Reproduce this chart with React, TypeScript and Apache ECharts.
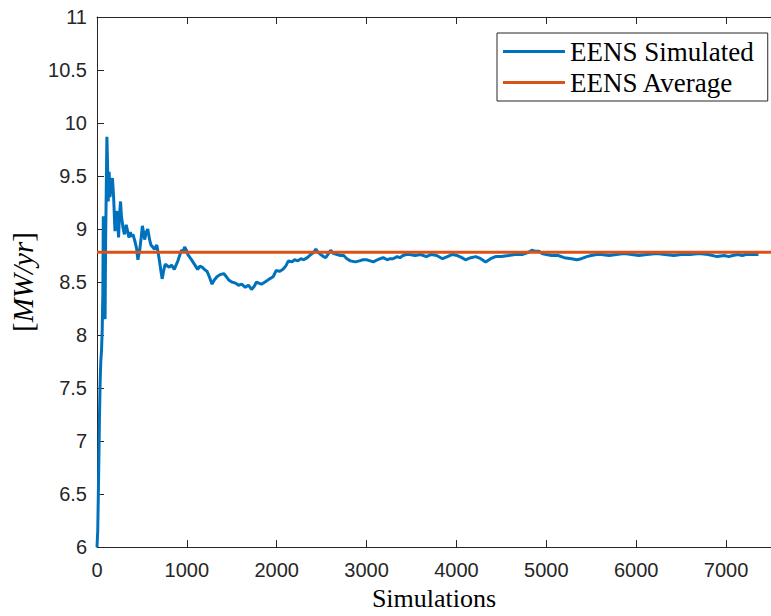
import React, { useEffect, useRef } from "react";
import * as echarts from "echarts";

// Simulation count (x) and running EENS estimate (y)
const simX: number[] = [
  0, 8, 15, 22, 28, 35, 42, 50, 58, 65, 70, 76, 82, 90, 96, 102, 110, 118, 125, 130,
  135, 145, 160, 172, 185, 200, 210, 225, 240, 248, 262, 272, 290, 305, 325, 340, 355,
  370, 385, 400, 420, 440, 455, 475, 492, 505, 520, 530, 548, 565, 585, 600, 620, 640,
  665, 680, 695, 712, 725, 745, 760, 785, 805, 830, 860, 880, 900, 920, 940, 960, 975,
  995, 1010, 1035, 1060, 1090, 1120, 1145, 1170, 1195, 1225, 1250, 1280, 1305, 1335,
  1370, 1410, 1440, 1465, 1500, 1540, 1575, 1610, 1650, 1685, 1720, 1750, 1775, 1800,
  1830, 1870, 1920, 1960, 1995, 2030, 2070, 2100, 2130, 2170, 2200, 2235, 2270, 2300,
  2340, 2380, 2410, 2435, 2460, 2490, 2520, 2545, 2570, 2600, 2630, 2670, 2710, 2745,
  2780, 2820, 2875, 2920, 2960, 3000, 3040, 3075, 3120, 3150, 3185, 3230, 3260, 3295,
  3340, 3370, 3405, 3440, 3480, 3540, 3600, 3665, 3720, 3780, 3845, 3900, 3955, 4010,
  4060, 4100, 4160, 4215, 4270, 4325, 4380, 4435, 4500, 4580, 4650, 4730, 4800, 4840,
  4875, 4920, 4950, 5000, 5060, 5130, 5200, 5280, 5340, 5390, 5450, 5500, 5560, 5610,
  5700, 5780, 5865, 5950, 6030, 6120, 6230, 6320, 6420, 6500, 6600, 6700, 6800, 6900,
  6980, 7030, 7075, 7130, 7180, 7220, 7300, 7360, 7420, 7500,
];
const simY: number[] = [
  6.0, 6.15, 6.5, 6.9, 7.25, 7.55, 7.75, 7.85, 8.05, 8.4, 9.12, 8.7, 8.3, 8.15, 8.9, 9.3,
  9.87, 9.6, 9.26, 9.4, 9.54, 9.3, 9.45, 9.48, 9.3, 8.98, 9.05, 9.17, 8.92, 9.1, 9.26,
  9.12, 9.01, 8.95, 9.04, 8.98, 8.92, 8.97, 8.93, 8.95, 8.89, 8.82, 8.71, 8.8, 8.92,
  9.03, 8.96, 8.9, 8.97, 9.0, 8.9, 8.85, 8.83, 8.81, 8.85, 8.78, 8.7, 8.6, 8.53, 8.62,
  8.67, 8.65, 8.64, 8.66, 8.62, 8.66, 8.7, 8.75, 8.8, 8.79, 8.83, 8.8, 8.76, 8.73, 8.7,
  8.66, 8.62, 8.65, 8.64, 8.62, 8.6, 8.55, 8.48, 8.52, 8.55, 8.57, 8.58, 8.55, 8.52,
  8.5, 8.49, 8.47, 8.48, 8.45, 8.47, 8.43, 8.46, 8.5, 8.49, 8.48, 8.5, 8.53, 8.55, 8.61,
  8.6, 8.62, 8.65, 8.7, 8.69, 8.71, 8.7, 8.72, 8.71, 8.73, 8.76, 8.78, 8.81, 8.78, 8.76,
  8.74, 8.73, 8.76, 8.8, 8.77, 8.76, 8.75, 8.75, 8.72, 8.7, 8.69, 8.7, 8.71, 8.71, 8.7,
  8.69, 8.71, 8.72, 8.73, 8.71, 8.72, 8.72, 8.74, 8.73, 8.75, 8.76, 8.76, 8.75, 8.76,
  8.74, 8.76, 8.75, 8.72, 8.74, 8.76, 8.75, 8.73, 8.71, 8.73, 8.74, 8.72, 8.69, 8.72,
  8.74, 8.74, 8.75, 8.76, 8.76, 8.78, 8.8, 8.79, 8.79, 8.77, 8.76, 8.75, 8.75, 8.73,
  8.72, 8.71, 8.72, 8.74, 8.75, 8.76, 8.76, 8.75, 8.76, 8.77, 8.76, 8.75, 8.76, 8.77,
  8.76, 8.75, 8.76, 8.76, 8.77, 8.76, 8.74, 8.75, 8.74, 8.75, 8.76, 8.75, 8.76, 8.76,
  8.76,
];
const avgX: number[] = [0, 7500];
const avgY: number[] = [8.78, 8.78];

const xTicks = { min: 0, max: 7500, interval: 1000 };
const yTicks = { min: 6, max: 11, interval: 0.5 };

export default function App() {
  const ref = useRef<HTMLDivElement>(null);
  useEffect(() => {
    if (!ref.current) return;
    const chart = echarts.init(ref.current, undefined, { renderer: "svg" });
    const axisColor = "#262626";
    const labelFont = "'Liberation Sans', Arial, sans-serif";
    const serif = "'Liberation Serif', 'Times New Roman', serif";
    chart.setOption({
      animation: false,
      backgroundColor: "#ffffff",
      grid: { left: 97, top: 17, width: 681, height: 536, containLabel: false },
      legend: {
        orient: "vertical",
        left: 497,
        top: 33,
        padding: [5, 14, 5, 6],
        backgroundColor: "#ffffff",
        borderColor: axisColor,
        borderWidth: 1,
        borderRadius: 0,
        icon: "rect",
        itemWidth: 62,
        itemHeight: 3,
        itemGap: 4,
        textStyle: { fontFamily: serif, fontSize: 27, color: "#000000" },
        data: ["EENS Simulated", "EENS Average"],
      },
      xAxis: [
        {
          type: "value",
          min: xTicks.min,
          max: xTicks.max,
          interval: xTicks.interval,
          name: "Simulations",
          nameLocation: "middle",
          nameGap: 37,
          nameTextStyle: { fontFamily: serif, fontSize: 26, color: "#000000" },
          axisLine: { show: true, onZero: false, lineStyle: { color: axisColor, width: 1 } },
          axisTick: { show: true, inside: true, length: 7, lineStyle: { color: axisColor } },
          axisLabel: {
            color: axisColor,
            fontFamily: labelFont,
            fontSize: 20,
            margin: 13,
            showMaxLabel: false,
            formatter: (v: number) => String(v),
          },
          splitLine: { show: false },
        },
        {
          type: "value",
          position: "top",
          min: xTicks.min,
          max: xTicks.max,
          interval: xTicks.interval,
          axisLine: { show: true, onZero: false, lineStyle: { color: axisColor, width: 1 } },
          axisTick: { show: true, inside: true, length: 7, lineStyle: { color: axisColor } },
          axisLabel: { show: false },
          splitLine: { show: false },
        },
      ],
      yAxis: {
        type: "value",
        min: yTicks.min,
        max: yTicks.max,
        interval: yTicks.interval,
        name: "{a|[}{b|MW/yr}{a|]}",
        nameLocation: "middle",
        nameGap: 58,
        nameTextStyle: {
          rich: {
            a: { fontFamily: serif, fontSize: 29, color: "#000000" },
            b: { fontFamily: serif, fontSize: 29, fontStyle: "italic", color: "#000000" },
          },
        },
        axisLine: { show: true, onZero: false, lineStyle: { color: axisColor, width: 1 } },
        axisTick: { show: true, inside: true, length: 7, lineStyle: { color: axisColor } },
        axisLabel: { color: axisColor, fontFamily: labelFont, fontSize: 20, margin: 10 },
        splitLine: { show: false },
      },
      series: [
        {
          name: "EENS Simulated",
          type: "line",
          data: simX.map((x, i) => [x, simY[i]]),
          showSymbol: false,
          symbol: "none",
          lineStyle: { color: "#0072BD", width: 3 },
          itemStyle: { color: "#0072BD" },
          clip: true,
        },
        {
          name: "EENS Average",
          type: "line",
          data: avgX.map((x, i) => [x, avgY[i]]),
          showSymbol: false,
          symbol: "none",
          lineStyle: { color: "#D95319", width: 3 },
          itemStyle: { color: "#D95319" },
          clip: true,
        },
      ],
    });
    return () => chart.dispose();
  }, []);
  return (
    <div
      ref={ref}
      style={{ position: "fixed", left: 0, top: 0, width: 771, height: 616, background: "#fff" }}
    />
  );
}
